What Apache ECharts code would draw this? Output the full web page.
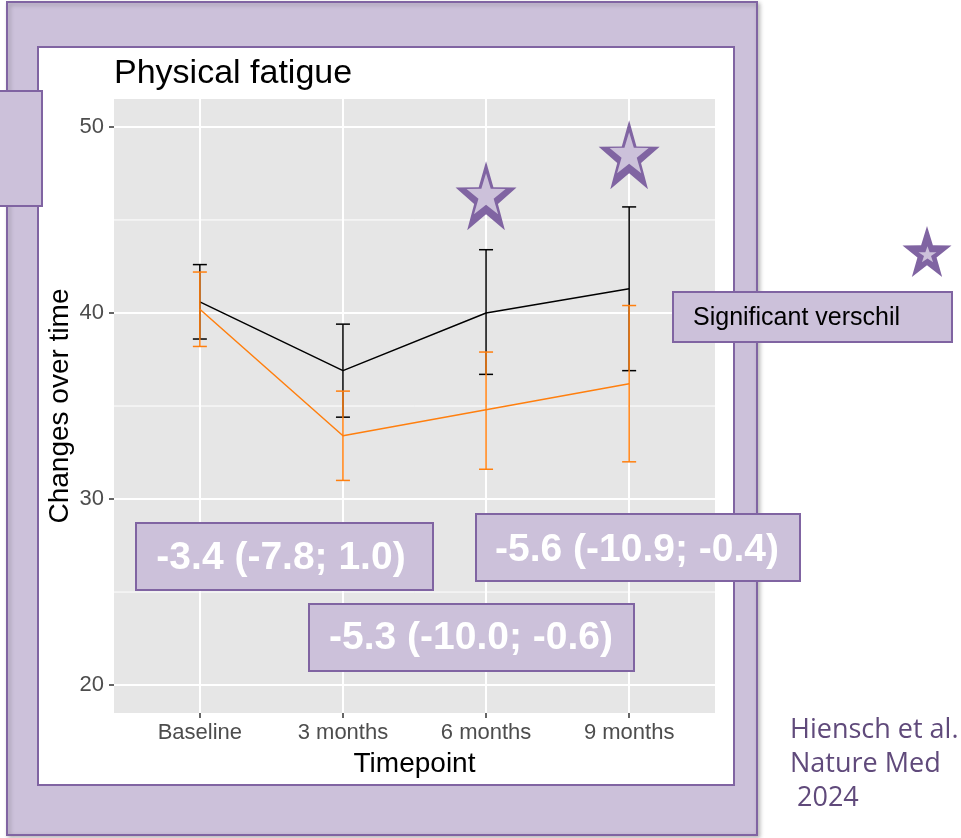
<!DOCTYPE html>
<html>
<head>
<meta charset="utf-8">
<script src="https://cdn.jsdelivr.net/npm/echarts@6/dist/echarts.min.js"></script>
<style>
  html, body { margin: 0; padding: 0; background: #ffffff; }
  #chart { width: 961px; height: 838px; }
</style>
</head>
<body>
<div id="chart"></div>
<script>
// Physical fatigue over time: group means with 95% confidence intervals
const timepoints = ['Baseline', '3 months', '6 months', '9 months'];
const controlMean  = [40.6, 36.9, 40.0, 41.3];
const controlLower = [38.6, 34.4, 36.7, 36.9];
const controlUpper = [42.6, 39.4, 43.4, 45.7];
const exerciseMean  = [40.2, 33.4, 34.8, 36.2];
const exerciseLower = [38.2, 31.0, 31.6, 32.0];
const exerciseUpper = [42.2, 35.8, 37.9, 40.4];
const yMajorTicks = [20, 30, 40, 50];
const yMinorTicks = [25, 35, 45];
// significance markers drawn above the 6 and 9 month timepoints
const sigTimepoints = [2, 3];
const sigLevels = [46.3, 48.5];
// between-group differences (95% CI)
const diffLabels = ['-3.4 (-7.8; 1.0)', '-5.3 (-10.0; -0.6)', '-5.6 (-10.9; -0.4)'];
const sigNote = 'Significant verschil';
const citation = ['Hiensch et al.', 'Nature Med', ' 2024'];

const PURPLE = '#8064a2';
const LILAC = '#ccc1da';
const ORANGE = '#ff7f0e';
const SANS = '"Liberation Sans", Arial, Helvetica, sans-serif';

// five-pointed star, unit outer radius, pointing up
function starUnit(ratio) {
  const pts = [];
  for (let k = 0; k < 10; k++) {
    const a = -Math.PI / 2 + k * Math.PI / 5;
    const r = k % 2 === 0 ? 1 : ratio;
    pts.push([Math.cos(a) * r, Math.sin(a) * r]);
  }
  return pts;
}
function starPath(ratio) {
  const pts = starUnit(ratio).map(p => [(p[0] * 1000 + 1000).toFixed(1), (p[1] * 1000 + 1000).toFixed(1)]);
  return 'path://M' + pts.map(p => p[0] + ',' + p[1]).join('L') + 'Z';
}
// star fitted into a w x h box centred on (cx, cy)
function starPolygon(cx, cy, w, h, ratio) {
  const sx = w / 1.902, sy = h / 1.809, oy = -0.0955;
  return starUnit(ratio).map(p => [cx + p[0] * sx, cy + (p[1] - oy) * sy]);
}
const STAR = starPath(0.39);

function errorBars(name, lower, upper, color, z) {
  return {
    name: name,
    type: 'custom',
    silent: true,
    z: z,
    data: lower.map((lo, i) => [i, lo, upper[i]]),
    encode: { x: 0, y: [1, 2] },
    renderItem: function (params, api) {
      const x = api.value(0);
      const lo = api.coord([x, api.value(1)]);
      const hi = api.coord([x, api.value(2)]);
      const half = 7;
      const style = { stroke: color, lineWidth: 1.5, fill: null };
      return {
        type: 'group',
        children: [
          { type: 'line', shape: { x1: lo[0], y1: lo[1], x2: hi[0], y2: hi[1] }, style: style },
          { type: 'line', shape: { x1: lo[0] - half, y1: lo[1], x2: lo[0] + half, y2: lo[1] }, style: style },
          { type: 'line', shape: { x1: hi[0] - half, y1: hi[1], x2: hi[0] + half, y2: hi[1] }, style: style }
        ]
      };
    }
  };
}

// white major / minor panel grid lines plus the outward axis ticks
const gridLines = {
  type: 'custom',
  silent: true,
  clip: false,
  z: 1,
  data: [[0, 0]],
  renderItem: function (params, api) {
    const cs = params.coordSys;
    const children = [];
    const tick = { stroke: '#333333', lineWidth: 1.5 };
    yMinorTicks.forEach(v => {
      const y = api.coord([0, v])[1];
      children.push({ type: 'line', shape: { x1: cs.x, y1: y, x2: cs.x + cs.width, y2: y },
        style: { stroke: '#ffffff', lineWidth: 1 } });
    });
    yMajorTicks.forEach(v => {
      const y = Math.round(api.coord([0, v])[1]);
      children.push({ type: 'line', shape: { x1: cs.x, y1: y, x2: cs.x + cs.width, y2: y },
        style: { stroke: '#ffffff', lineWidth: 2 } });
      children.push({ type: 'line', shape: { x1: cs.x - 5, y1: y, x2: cs.x, y2: y }, style: tick });
    });
    timepoints.forEach((t, i) => {
      const x = Math.round(api.coord([i, 0])[0]);
      children.push({ type: 'line', shape: { x1: x, y1: cs.y, x2: x, y2: cs.y + cs.height },
        style: { stroke: '#ffffff', lineWidth: 2 } });
      children.push({ type: 'line', shape: { x1: x, y1: cs.y + cs.height, x2: x, y2: cs.y + cs.height + 5 }, style: tick });
    });
    return { type: 'group', children: children };
  }
};

function labelBox(x, y, w, h, text, tx, ty, font, color, align) {
  return [
    { type: 'rect', z: 100, shape: { x: x, y: y, width: w, height: h },
      style: { fill: LILAC, stroke: PURPLE, lineWidth: 2 } },
    { type: 'text', z: 101, x: tx, y: ty,
      style: { text: text, fill: color, font: font, align: align, verticalAlign: 'middle' } }
  ];
}

const chart = echarts.init(document.getElementById('chart'), null, { renderer: 'canvas' });

const graphics = [
  // slide frame behind the plot
  { type: 'rect', z: -20, shape: { x: 7, y: 2, width: 750, height: 833 },
    style: { fill: LILAC, stroke: PURPLE, lineWidth: 2, shadowBlur: 4, shadowOffsetX: 2, shadowOffsetY: 2, shadowColor: 'rgba(0,0,0,0.25)' } },
  { type: 'rect', z: -19, shape: { x: 38, y: 47, width: 696, height: 738 },
    style: { fill: '#ffffff', stroke: PURPLE, lineWidth: 2 } },
  { type: 'rect', z: -18, shape: { x: -2, y: 91, width: 44, height: 115 },
    style: { fill: LILAC, stroke: PURPLE, lineWidth: 2 } },
  // legend star beside the note
  { type: 'polygon', z: 100, shape: { points: starPolygon(927, 251.5, 49, 51, 0.39) },
    style: { fill: PURPLE } },
  { type: 'polygon', z: 101, shape: { points: starPolygon(927.5, 254.2, 18, 16, 0.39) },
    style: { fill: LILAC } }
]
  .concat(labelBox(673, 292, 279, 50, sigNote, 693, 318, '25px ' + SANS, '#000000', 'left'))
  .concat(labelBox(136, 523, 297, 67, diffLabels[0], 281, 558, 'bold 39px ' + SANS, '#ffffff', 'center'))
  .concat(labelBox(309, 604, 325, 67, diffLabels[1], 471, 638, 'bold 39px ' + SANS, '#ffffff', 'center'))
  .concat(labelBox(476, 514, 324, 67, diffLabels[2], 637, 550, 'bold 39px ' + SANS, '#ffffff', 'center'))
  .concat(citation.map((line, i) => ({
    type: 'text', z: 100, x: 790, y: 730 + i * 34,
    style: { text: line, fill: '#604a7b', font: '27px "Open Sans", "Noto Sans", sans-serif', align: 'left', verticalAlign: 'middle' }
  })));

chart.setOption({
  animation: false,
  backgroundColor: '#ffffff',
  title: {
    text: 'Physical fatigue',
    left: 114, top: 57, padding: 0,
    textStyle: { fontFamily: SANS, fontSize: 34, fontWeight: 'normal', color: '#000000' }
  },
  grid: {
    left: 114, top: 99, width: 601, height: 614,
    show: true, backgroundColor: '#e6e6e6', borderWidth: 0,
    containLabel: false, outerBoundsMode: 'none'
  },
  xAxis: {
    type: 'value', min: -0.6, max: 3.6,
    name: 'Timepoint', nameLocation: 'middle', nameGap: 37, nameMoveOverlap: false,
    nameTextStyle: { fontFamily: SANS, fontSize: 28, color: '#000000' },
    axisLine: { show: false },
    axisTick: { show: false },
    axisLabel: { show: true, margin: 9, fontFamily: SANS, fontSize: 22, color: '#4d4d4d',
      customValues: [0, 1, 2, 3], formatter: v => timepoints[Math.round(v)] },
    splitLine: { show: false }
  },
  yAxis: {
    type: 'value', min: 18.5, max: 51.5,
    name: 'Changes over time', nameLocation: 'middle', nameGap: 40, nameRotate: 90, nameMoveOverlap: false,
    nameTextStyle: { fontFamily: SANS, fontSize: 28, color: '#000000' },
    axisLine: { show: false },
    axisTick: { show: false },
    axisLabel: { show: true, margin: 10, fontFamily: SANS, fontSize: 22, color: '#4d4d4d', customValues: yMajorTicks },
    splitLine: { show: false }
  },
  graphic: graphics,
  series: [
    gridLines,
    {
      name: 'Control', type: 'line', z: 3, silent: true,
      data: controlMean.map((v, i) => [i, v]),
      symbol: 'none', lineStyle: { color: '#000000', width: 1.5 }
    },
    errorBars('Control CI', controlLower, controlUpper, '#000000', 4),
    {
      name: 'Exercise', type: 'line', z: 5, silent: true,
      data: exerciseMean.map((v, i) => [i, v]),
      symbol: 'none', lineStyle: { color: ORANGE, width: 1.5 }
    },
    errorBars('Exercise CI', exerciseLower, exerciseUpper, ORANGE, 6),
    {
      name: 'Significant', type: 'scatter', z: 7, silent: true,
      data: sigTimepoints.map((t, i) => [t, sigLevels[i]]),
      symbol: STAR, symbolSize: [61, 69], itemStyle: { color: PURPLE, opacity: 1 }
    },
    {
      name: 'Significant fill', type: 'scatter', z: 8, silent: true,
      data: sigTimepoints.map((t, i) => [t, sigLevels[i]]),
      symbol: STAR, symbolSize: [39, 41], symbolOffset: [0, -2], itemStyle: { color: LILAC, opacity: 1 }
    }
  ]
});
</script>
</body>
</html>
